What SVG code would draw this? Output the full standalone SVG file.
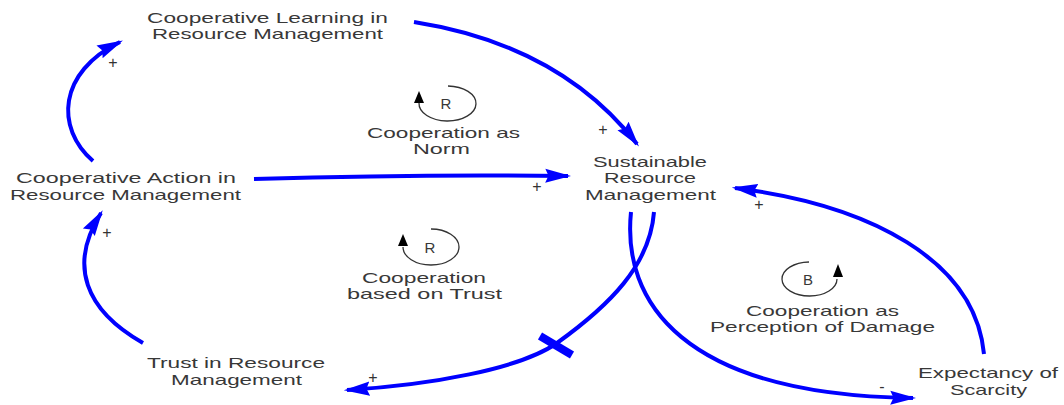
<svg xmlns="http://www.w3.org/2000/svg" width="1064" height="405" viewBox="0 0 1064 405">
<style>
.lbl{font-family:"Liberation Sans",Arial,sans-serif;font-size:15px;fill:#383838;text-anchor:middle}
.sgn{font-family:"Liberation Sans",Arial,sans-serif;font-size:16px;fill:#333;text-anchor:middle}
.lnk{fill:none;stroke:#0000ff;stroke-width:4;marker-end:url(#ah)}
.loop{fill:none;stroke:#333;stroke-width:1.3}
.lh{fill:#000}
</style>
<defs>
<marker id="ah" markerUnits="userSpaceOnUse" markerWidth="26" markerHeight="16" viewBox="0 0 24 14" refX="21" refY="7" orient="auto">
<path d="M0,0.5 L24,7 L0,13.5 L3,7 z" fill="#0000ff"/>
</marker>
</defs>
<rect width="1064" height="405" fill="#fff"/>
<g id="connectors">
<path class="lnk" d="M93,161 C55,128 58,72 120,42"/>
<path class="lnk" d="M414,22 Q560,45 637,144"/>
<path class="lnk" d="M254,179 Q420,174 568,176"/>
<path class="lnk" d="M654,212 C650,265 610,305 557,343 C520,369 430,385 347,390"/>
<line x1="540" y1="336" x2="572" y2="355" stroke="#0000ff" stroke-width="8"/>
<path class="lnk" d="M631,212 C622,300 680,395 913,398"/>
<path class="lnk" d="M984,354 C975,260 870,205 735,188"/>
<path class="lnk" d="M143,343 C85,310 68,265 101,213"/>
</g>
<g id="polarities">
<text class="sgn" x="113" y="68">+</text>
<text class="sgn" x="603" y="135">+</text>
<text class="sgn" x="537" y="192">+</text>
<text class="sgn" x="107" y="238">+</text>
<text class="sgn" x="373" y="383">+</text>
<text class="sgn" x="759" y="210">+</text>
<text class="sgn" x="882" y="392">-</text>
</g>
<g id="node-learning">
<text class="lbl" x="267.5" y="23" textLength="241" lengthAdjust="spacingAndGlyphs">Cooperative Learning in</text>
<text class="lbl" x="267.5" y="39" textLength="231" lengthAdjust="spacingAndGlyphs">Resource Management</text>
</g>
<g id="node-action">
<text class="lbl" x="126" y="183" textLength="220" lengthAdjust="spacingAndGlyphs">Cooperative Action in</text>
<text class="lbl" x="125.5" y="200" textLength="231" lengthAdjust="spacingAndGlyphs">Resource Management</text>
</g>
<g id="node-sustainable">
<text class="lbl" x="650" y="167" textLength="114" lengthAdjust="spacingAndGlyphs">Sustainable</text>
<text class="lbl" x="650" y="183" textLength="92" lengthAdjust="spacingAndGlyphs">Resource</text>
<text class="lbl" x="650.5" y="200" textLength="131" lengthAdjust="spacingAndGlyphs">Management</text>
</g>
<g id="node-trust">
<text class="lbl" x="236" y="368" textLength="178" lengthAdjust="spacingAndGlyphs">Trust in Resource</text>
<text class="lbl" x="236.5" y="385" textLength="131" lengthAdjust="spacingAndGlyphs">Management</text>
</g>
<g id="node-scarcity">
<text class="lbl" x="988" y="378" textLength="140" lengthAdjust="spacingAndGlyphs">Expectancy of</text>
<text class="lbl" x="988.5" y="395" textLength="77" lengthAdjust="spacingAndGlyphs">Scarcity</text>
</g>
<g id="loop-norm">
<path class="loop" d="M448,86 A28.5 17.5 0 1 1 419,103"/>
<path class="lh" d="M419,91 L414,103 L424,103 z"/>
<text class="lbl" x="446" y="109">R</text>
<text class="lbl" x="443.5" y="138" textLength="153" lengthAdjust="spacingAndGlyphs">Cooperation as</text>
<text class="lbl" x="441.5" y="154" textLength="57" lengthAdjust="spacingAndGlyphs">Norm</text>
</g>
<g id="loop-trust">
<path class="loop" d="M431,229 A28 18 0 1 1 403,247"/>
<path class="lh" d="M403,234 L398,246 L408,246 z"/>
<text class="lbl" x="430" y="253">R</text>
<text class="lbl" x="424" y="283" textLength="124" lengthAdjust="spacingAndGlyphs">Cooperation</text>
<text class="lbl" x="424.5" y="299" textLength="155" lengthAdjust="spacingAndGlyphs">based on Trust</text>
</g>
<g id="loop-damage">
<path class="loop" d="M809,262 A27.5 17 0 1 0 837,279"/>
<path class="lh" d="M838,264 L833,277 L843,277 z"/>
<text class="lbl" x="808" y="285">B</text>
<text class="lbl" x="822.5" y="316" textLength="153" lengthAdjust="spacingAndGlyphs">Cooperation as</text>
<text class="lbl" x="822.5" y="332" textLength="225" lengthAdjust="spacingAndGlyphs">Perception of Damage</text>
</g>
</svg>
